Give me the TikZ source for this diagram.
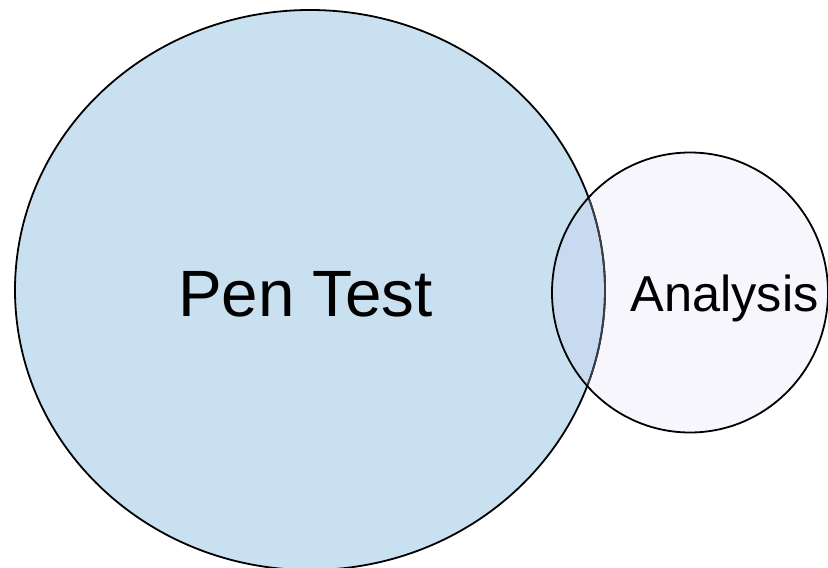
\documentclass[tikz,border=0pt]{standalone}
\usepackage{fontspec}
\setmainfont{Liberation Sans}
\usetikzlibrary{positioning}
\definecolor{penfill}{HTML}{C9E0F0}
\definecolor{anafill}{HTML}{F6F6FC}
\definecolor{overlap}{HTML}{C7DAEF}
\definecolor{seam}{HTML}{3A3E44}

\begin{document}
\begin{tikzpicture}[x=1pt,y=-1pt,
   ring/.style={draw=black,line width=1.8pt},
   lbl/.style={inner sep=0pt,text=black,anchor=base}]
  \useasboundingbox (0,0) rectangle (828,568);
  % set areas
  \fill[penfill] (310,290) ellipse [x radius=295,y radius=280];
  \fill[anafill] (690,292.5) ellipse [x radius=138,y radius=140];
  \begin{scope}
    \clip (310,290) ellipse [x radius=295,y radius=280];
    \fill[overlap] (690,292.5) ellipse [x radius=138,y radius=140];
  \end{scope}
  % outlines
  \draw[ring] (310,290) ellipse [x radius=295,y radius=280];
  \begin{scope}
    \clip (690,292.5) ellipse [x radius=138,y radius=140];
    \draw[ring,draw=seam] (310,290) ellipse [x radius=295,y radius=280];
  \end{scope}
  \draw[ring] (690,292.5) ellipse [x radius=138,y radius=140];
  % labels
  \node[lbl,font=\fontsize{65.5}{72}\selectfont] (pen) at (305.5,316) {Pen Test};
  \node[lbl,font=\fontsize{50.5}{56}\selectfont] (ana) at (724.5,311.7) {Analysis};
\end{tikzpicture}
\end{document}
